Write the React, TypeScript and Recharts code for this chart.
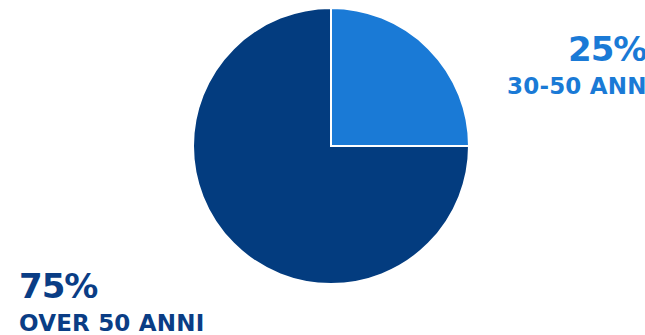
import { PieChart, Pie, Cell } from 'recharts'

const categories = ['30-50 ANNI', 'OVER 50 ANNI']
const shares = [25, 75]
const colors = ['#1a7ad6', '#033c7f']
const textColors = ['#1a7ad6', '#0a3d85']

const data = categories.map((name, i) => ({ name, value: shares[i] }))

const font = "'DejaVu Sans', sans-serif"

// eslint-disable-next-line @typescript-eslint/no-explicit-any
function renderLabel(props: any) {
  const { cx, cy, index } = props
  const right = index === 0
  // the right-hand pair is offset, not aligned; both run past the edge
  const xPct = right ? cx + 237 : cx - 312
  const xName = right ? cx + 176 : cx - 312
  const y = right ? cy - 85 : cy + 152
  return (
    <g>
      <text
        x={xPct}
        y={y}
        fill={textColors[index]}
        fontFamily={font}
        fontWeight={700}
        fontSize={34}
        letterSpacing={-1}
      >
        {shares[index]}%
      </text>
      <text
        x={xName}
        y={y + 33}
        fill={textColors[index]}
        fontFamily={font}
        fontWeight={700}
        fontSize={23}
        letterSpacing={0.2}
      >
        {categories[index]}
      </text>
    </g>
  )
}

export default function App() {
  return (
    <div style={{ position: 'fixed', top: 0, left: 0, width: 645, height: 335, background: '#fff', overflow: 'hidden' }}>
      <PieChart
        width={645}
        height={335}
        margin={{ top: 0, right: 0, bottom: 0, left: 0 }}
        style={{ overflow: 'visible' }}
      >
        <Pie
          data={data}
          dataKey="value"
          cx={331}
          cy={146}
          outerRadius={138}
          startAngle={90}
          endAngle={-270}
          stroke="#ffffff"
          strokeWidth={2}
          label={renderLabel}
          labelLine={false}
          isAnimationActive={false}
        >
          {data.map((d, i) => (
            <Cell key={d.name} fill={colors[i]} />
          ))}
        </Pie>
      </PieChart>
    </div>
  )
}
